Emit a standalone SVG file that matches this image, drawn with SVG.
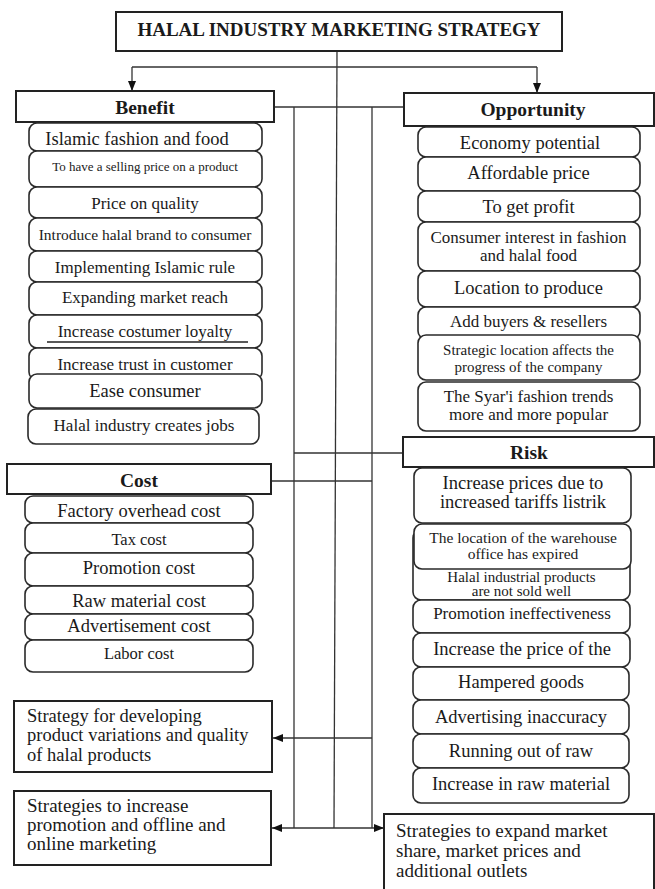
<svg xmlns="http://www.w3.org/2000/svg" width="655" height="889" viewBox="0 0 655 889">
<defs>
<style>
.hdr{fill:#fff;stroke:#222;stroke-width:2}
.box{fill:#fff;stroke:#2a2a2a;stroke-width:1.6}
.ln{stroke:#333;stroke-width:1.3;fill:none}
text{font-family:"Liberation Serif","Times New Roman",serif;fill:#1a1a1a;text-anchor:middle}
.b{font-weight:bold}
.l{text-anchor:start}
.s19{font-size:19px}
.s195{font-size:19.5px}
.s185{font-size:18.5px}
.s17{font-size:17px}
.s165{font-size:16.5px}
.s155{font-size:15.5px}
.s15{font-size:15px}
.s13{font-size:13px}
</style>
<marker id="arr" markerUnits="userSpaceOnUse" markerWidth="10" markerHeight="8" refX="10" refY="4" orient="auto">
<path d="M0,0 L10,4 L0,8 z" fill="#111"/>
</marker>
</defs>
<rect width="655" height="889" fill="#fff"/>

<g id="connectors">
<line class="ln" x1="337" y1="51" x2="334" y2="828"/>
<line class="ln" x1="132" y1="67" x2="537" y2="67"/>
<line class="ln" x1="132" y1="67" x2="132" y2="91" marker-end="url(#arr)"/>
<line class="ln" x1="537" y1="67" x2="537" y2="93" marker-end="url(#arr)"/>
<line class="ln" x1="274" y1="107" x2="404" y2="107"/>
<line class="ln" x1="294" y1="107" x2="294" y2="828"/>
<line class="ln" x1="372" y1="107" x2="372" y2="828"/>
<line class="ln" x1="294" y1="453" x2="403" y2="453"/>
<line class="ln" x1="271" y1="481" x2="372" y2="481"/>
<line class="ln" x1="372" y1="738" x2="273" y2="738" marker-end="url(#arr)"/>
<line class="ln" x1="330" y1="828" x2="272" y2="828" marker-end="url(#arr)"/>
<line class="ln" x1="330" y1="828" x2="384" y2="828" marker-end="url(#arr)"/>
</g>

<g id="title">
<rect class="hdr" x="116" y="12" width="446" height="39"/>
<text class="b s19" x="339" y="36">HALAL INDUSTRY MARKETING STRATEGY</text>
</g>

<g id="benefit">
<rect class="hdr" x="16" y="91" width="258" height="31"/>
<text class="b s195" x="145" y="114">Benefit</text>
</g>
<g id="benefit-items">
<rect class="box" x="29" y="123" width="233" height="28" rx="8"/>
<text class="s185" x="137" y="145">Islamic fashion and food</text>
<rect class="box" x="29" y="151" width="233" height="36" rx="8"/>
<text class="s13" x="145" y="170.5">To have a selling price on a product</text>
<rect class="box" x="29" y="187" width="233" height="31" rx="8"/>
<text class="s17" x="145" y="209">Price on quality</text>
<rect class="box" x="29" y="218" width="233" height="33" rx="8"/>
<text class="s155" x="145" y="239.5">Introduce halal brand to consumer</text>
<rect class="box" x="29" y="251" width="233" height="31" rx="8"/>
<text class="s17" x="145" y="272.5">Implementing Islamic rule</text>
<rect class="box" x="29" y="282" width="233" height="33" rx="8"/>
<text class="s17" x="145" y="303">Expanding market reach</text>
<rect class="box" x="29" y="315" width="233" height="33" rx="8"/>
<text class="s17" x="145" y="336.5">Increase costumer loyalty</text>
<line x1="47" y1="342" x2="248" y2="342" stroke="#222" stroke-width="1.3"/>
<rect class="box" x="29" y="348" width="233" height="32" rx="8"/>
<text class="s17" x="145" y="370">Increase trust in customer</text>
<rect class="box" x="29" y="374" width="233" height="34" rx="8"/>
<text class="s185" x="145" y="396.5">Ease consumer</text>
<rect class="box" x="28" y="409" width="231" height="35" rx="8"/>
<text class="s17" x="144" y="430.5">Halal industry creates jobs</text>
</g>

<g id="cost">
<rect class="hdr" x="7" y="464" width="264" height="30"/>
<text class="b s195" x="139" y="487">Cost</text>
</g>
<g id="cost-items">
<rect class="box" x="25" y="496" width="228" height="27" rx="8"/>
<text class="s185" x="139" y="517">Factory overhead cost</text>
<rect class="box" x="25" y="523" width="228" height="30" rx="8"/>
<text class="s165" x="139" y="545">Tax cost</text>
<rect class="box" x="25" y="553" width="228" height="33" rx="8"/>
<text class="s185" x="139" y="574">Promotion cost</text>
<rect class="box" x="25" y="586" width="228" height="28" rx="8"/>
<text class="s185" x="139" y="606.5">Raw material cost</text>
<rect class="box" x="25" y="614" width="228" height="26" rx="8"/>
<text class="s185" x="139" y="631.5">Advertisement cost</text>
<rect class="box" x="25" y="640" width="228" height="32" rx="8"/>
<text class="s165" x="139" y="659">Labor cost</text>
</g>

<g id="opportunity">
<rect class="hdr" x="404" y="93" width="250" height="33"/>
<text class="b s195" x="533" y="116">Opportunity</text>
</g>
<g id="opportunity-items">
<rect class="box" x="418" y="127" width="222" height="30" rx="8"/>
<text class="s185" x="530" y="149">Economy potential</text>
<rect class="box" x="418" y="157" width="222" height="34" rx="8"/>
<text class="s185" x="528.5" y="179">Affordable price</text>
<rect class="box" x="418" y="191" width="222" height="31" rx="8"/>
<text class="s185" x="528.5" y="212.5">To get profit</text>
<rect class="box" x="418" y="222" width="222" height="49" rx="8"/>
<text class="s17" x="528.5" y="243">Consumer interest in fashion</text>
<text class="s17" x="528.5" y="260.5">and halal food</text>
<rect class="box" x="418" y="271" width="222" height="36" rx="8"/>
<text class="s185" x="528.5" y="294">Location to produce</text>
<rect class="box" x="418" y="307" width="222" height="32" rx="8"/>
<text class="s17" x="528.5" y="327">Add buyers &amp; resellers</text>
<rect class="box" x="418" y="335" width="222" height="45" rx="8"/>
<text class="s15" x="528.5" y="355">Strategic location affects the</text>
<text class="s15" x="528.5" y="371.5">progress of the company</text>
<rect class="box" x="418" y="382" width="222" height="49" rx="8"/>
<text class="s17" x="528.5" y="401.5">The Syar'i fashion trends</text>
<text class="s17" x="528.5" y="420">more and more popular</text>
</g>

<g id="risk">
<rect class="hdr" x="403" y="437" width="251" height="30"/>
<text class="b s195" x="529" y="459">Risk</text>
</g>
<g id="risk-items">
<rect class="box" x="414" y="468" width="217" height="55" rx="8"/>
<text class="s185" x="523" y="489">Increase prices due to</text>
<text class="s185" x="523" y="508">increased tariffs listrik</text>
<rect class="box" x="413" y="530" width="217" height="70" rx="8"/>
<text class="s15" x="521.5" y="581.5">Halal industrial products</text>
<text class="s15" x="521.5" y="596">are not sold well</text>
<rect class="box" x="414" y="524" width="217" height="45" rx="8"/>
<text class="s155" x="523" y="543">The location of the warehouse</text>
<text class="s155" x="523" y="559">office has expired</text>
<rect class="box" x="413" y="600" width="217" height="33" rx="8"/>
<text class="s17" x="522" y="619">Promotion ineffectiveness</text>
<rect class="box" x="413" y="633" width="217" height="34" rx="8"/>
<text class="s185" x="522" y="655">Increase the price of the</text>
<rect class="box" x="413" y="667" width="216" height="33" rx="8"/>
<text class="s185" x="521" y="688">Hampered goods</text>
<rect class="box" x="413" y="700" width="216" height="34" rx="8"/>
<text class="s185" x="521" y="723">Advertising inaccuracy</text>
<rect class="box" x="413" y="734" width="216" height="34" rx="8"/>
<text class="s185" x="521" y="757">Running out of raw</text>
<rect class="box" x="413" y="768" width="216" height="35" rx="8"/>
<text class="s185" x="521" y="790">Increase in raw material</text>
</g>

<g id="strategy-product">
<rect class="hdr" x="14" y="701" width="258" height="71"/>
<text class="s185 l" x="27" y="721.5">Strategy for developing</text>
<text class="s185 l" x="27" y="741">product variations and quality</text>
<text class="s185 l" x="27" y="760.5">of halal products</text>
</g>

<g id="strategy-promotion">
<rect class="hdr" x="14" y="791" width="257" height="74"/>
<text class="s19 l" x="27" y="812">Strategies to increase</text>
<text class="s19 l" x="27" y="831">promotion and offline and</text>
<text class="s19 l" x="27" y="850">online marketing</text>
</g>

<g id="strategy-market">
<rect class="hdr" x="384" y="814" width="270" height="90"/>
<text class="s19 l" x="396" y="837">Strategies to expand market</text>
<text class="s19 l" x="396" y="857">share, market prices and</text>
<text class="s19 l" x="396" y="877">additional outlets</text>
</g>
</svg>
